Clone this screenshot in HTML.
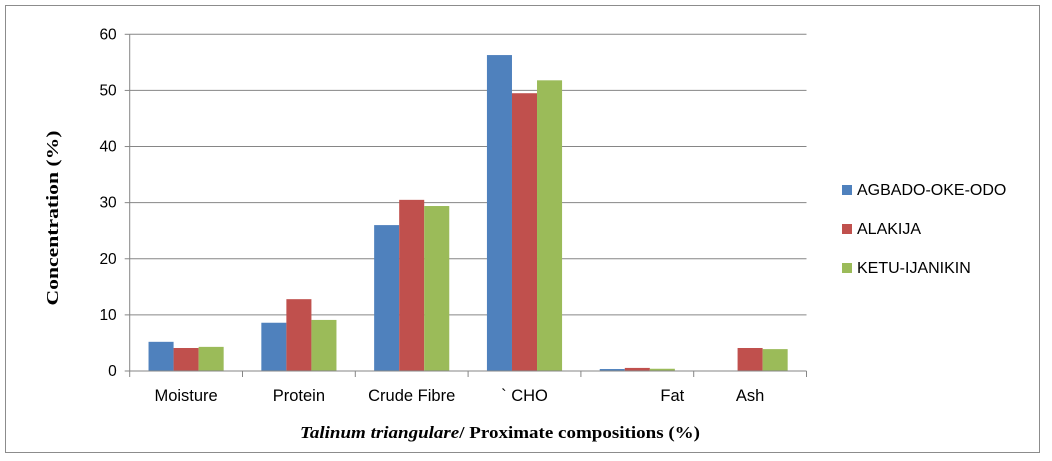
<!DOCTYPE html>
<html><head><meta charset="utf-8"><style>
body{margin:0;background:#fff;width:1052px;height:461px;overflow:hidden}
svg{display:block}
</style></head><body>
<svg id="chart" width="1052" height="461">
<rect x="5.5" y="5.5" width="1034" height="447" fill="#fff" stroke="#8c8c8c"/>
<g id="grid"></g><g id="bars"></g><g id="axes"></g>
<text x="58" y="218" transform="rotate(-90 58 218)" text-anchor="middle" font-family="Liberation Serif, serif" font-weight="bold" font-size="17" textLength="175" lengthAdjust="spacingAndGlyphs">Concentration (%)</text>
<text x="500" y="438" text-anchor="middle" font-family="Liberation Serif, serif" font-weight="bold" font-size="17" textLength="400" lengthAdjust="spacingAndGlyphs"><tspan font-style="italic">Talinum triangulare</tspan>/ Proximate compositions (%)</text>
<g id="legend"></g>
</svg>
<script>
const categories=["Moisture","Protein","Crude Fibre","` CHO","Fat","Ash"];
const seriesNames=["AGBADO-OKE-ODO","ALAKIJA","KETU-IJANIKIN"];
const agbado=[5.2,8.6,26.0,56.3,0.35,0];
const alakija=[4.1,12.8,30.5,49.5,0.55,4.1];
const ketu=[4.3,9.1,29.4,51.8,0.4,3.9];
const yTicks=[0,10,20,30,40,50,60];
const colors=["#4f81bd","#c0504d","#9bbb59"];
const NS="http://www.w3.org/2000/svg";
const x0=129.7,x1=806.5,y0=371,yTop=34.3,yMax=60;
const bw=(x1-x0)/categories.length;
const y=v=>y0-(v/yMax)*(y0-yTop);
const xc=i=>x0+bw*i;
function mk(tag,attrs,parent){const e=document.createElementNS(NS,tag);for(const k in attrs)e.setAttribute(k,attrs[k]);parent.appendChild(e);return e;}
const grid=document.getElementById('grid'),bars=document.getElementById('bars'),axes=document.getElementById('axes'),legend=document.getElementById('legend');
yTicks.forEach(t=>{
 if(t>0){const l=mk('line',{x1:x0,x2:x1,y1:y(t),y2:y(t),stroke:'#868686','stroke-width':1},grid);
 
 }
 const tk=mk('line',{x1:x0-5,x2:x0,y1:y(t),y2:y(t),stroke:'#868686'},axes);
 
 
 const tx=mk('text',{x:x0-13,y:y(t)+5,'text-anchor':'end','font-family':'Liberation Sans, sans-serif','font-size':15.5},axes);
 tx.textContent=t;
 
 
});
const series=[agbado,alakija,ketu];
const barW=bw*0.222;
series.forEach((s,si)=>{s.forEach((v,i)=>{
 if(v<=0)return;
 const bx=xc(i)+(bw-3*barW)/2+si*barW;
 const r=mk('rect',{x:bx,y:y(v),width:barW,height:y0-y(v),fill:colors[si]},bars);
 
 
});});
const ya=mk('line',{x1:x0,x2:x0,y1:yTop,y2:y0,stroke:'#868686'},axes);


const xa=mk('line',{x1:x0,x2:x1,y1:y0,y2:y0,stroke:'#868686'},axes);


for(let i=0;i<=categories.length;i++){const t=mk('line',{x1:xc(i),x2:xc(i),y1:y0,y2:y0+6,stroke:'#868686'},axes);
 
 }
categories.forEach((c,i)=>{
 const off=c==="Fat"?35:0;
 const t=mk('text',{x:xc(i)+bw/2+off,y:401,'text-anchor':'middle','font-family':'Liberation Sans, sans-serif','font-size':16.5},axes);
 t.textContent=c;
 
 
});
seriesNames.forEach((n,i)=>{
 const ly=185+i*39;
 const r=mk('rect',{x:842,y:ly,width:10,height:10,fill:colors[i]},legend);
 
 
 const t=mk('text',{x:857,y:ly+10,'font-family':'Liberation Sans, sans-serif','font-size':16},legend);
 t.textContent=n;
 
 
});
</script>
</body></html>
